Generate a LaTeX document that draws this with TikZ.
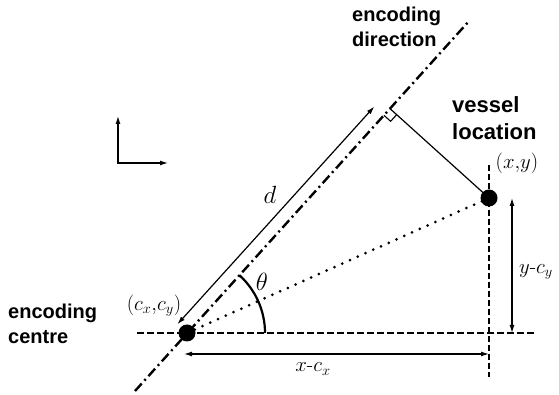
\documentclass[tikz,border=0pt]{standalone}
\usepackage{fontspec}
\setsansfont{Liberation Sans}
\usetikzlibrary{arrows.meta,calc}
\begin{document}
\begin{tikzpicture}[x=1pt,y=1pt,
 lbl/.style={font=\sffamily\bfseries\fontsize{20}{25}\selectfont, align=left, inner sep=0pt},
 biglbl/.style={font=\sffamily\bfseries\fontsize{22}{27}\selectfont, align=left, inner sep=0pt},
 mathlbl/.style={font=\fontsize{21}{24}\selectfont, inner sep=0pt},
 dotnode/.style={circle, fill=black, minimum size=17pt, inner sep=0pt},
 dimarrow/.style={line width=1.2pt, {Latex[length=8pt,width=5pt]}-{Latex[length=8pt,width=5pt]}},
 encline/.style={line width=2.4pt, dash pattern=on 10pt off 4pt on 2pt off 4pt},
 guide/.style={line width=1.7pt, dash pattern=on 7pt off 3pt},
 vguide/.style={line width=1.3pt, dash pattern=on 6pt off 3pt},
 dotline/.style={line width=3pt, line cap=round, dash pattern=on 0pt off 8.5pt},
]
\useasboundingbox (0,0) rectangle (559,395);
\coordinate (C) at (187,62);
\coordinate (V) at (489,197);
\coordinate (EB) at (135,4);
\coordinate (ET) at (470,375);
\coordinate (F) at ($(EB)!(V)!(ET)$);
\coordinate (HL) at (137,62);
\coordinate (HR) at (537,62);
\coordinate (VT) at (489,230);
\coordinate (VB) at (489,18);
\coordinate (XA) at (184,41);
\coordinate (XB) at (489,41);
\coordinate (YA) at (512,197);
\coordinate (YB) at (512,62);
\coordinate (O) at (118,232);
\coordinate (AY) at (118,279);
\coordinate (AX) at (168,232);
\coordinate (D1) at ($(C)!13pt!90:(F)$);
\coordinate (D2) at ($(F)!13pt!-90:(C)$);
\coordinate (RA1) at ($(F)!9pt!(C)$);
\coordinate (RA3) at ($(F)!9pt!(V)$);
\coordinate (RA2) at ($(RA1)+(RA3)-(F)$);
\coordinate (ARC0) at ($(C)+(78,0)$);

\draw[guide] (HL) -- (HR);
\draw[vguide] (VT) -- (VB);
\draw[encline] (EB) -- (ET);
\draw[dotline] (C) -- (V);
\draw[line width=1.2pt] (V) -- (F);
\draw[line width=1.1pt] (RA1) -- (RA2) -- (RA3);
\draw[dimarrow, shorten >=9pt] (D1) -- (D2);
\draw[line width=2.2pt] (ARC0) arc[start angle=0, end angle=47.9, radius=78];
\draw[dimarrow] (XA) -- (XB);
\draw[dimarrow] (YA) -- (YB);
\draw[line width=1.2pt, {Latex[length=8pt,width=5pt]}-{Latex[length=8pt,width=5pt]}] (AY) -- (O) -- (AX);

\node[dotnode] (c) at (C) {};
\node[dotnode] (v) at (V) {};

\node[lbl, anchor=north west] (encdir) at (352,388) {encoding\\direction};
\node[biglbl, anchor=north west] (vessel) at (452,299) {vessel\\location};
\node[lbl, anchor=north west] (enccen) at (8,91) {encoding\\centre};

\node[mathlbl] (cxcy) at (154,89) {$(c_x,\!c_y)$};
\node[mathlbl] (xy) at (517,232) {$(x,\!y)$};
\node[mathlbl, font=\fontsize{23}{26}\selectfont] (theta) at (262,113) {$\theta$};
\node[mathlbl, font=\fontsize{23}{26}\selectfont] (dl) at (270,200) {$d$};
\node[mathlbl] (xcx) at (313,26) {$x$-$c_x$};
\node[mathlbl, anchor=west] (ycy) at (519,123) {$y$-$c_y$};
\end{tikzpicture}
\end{document}
